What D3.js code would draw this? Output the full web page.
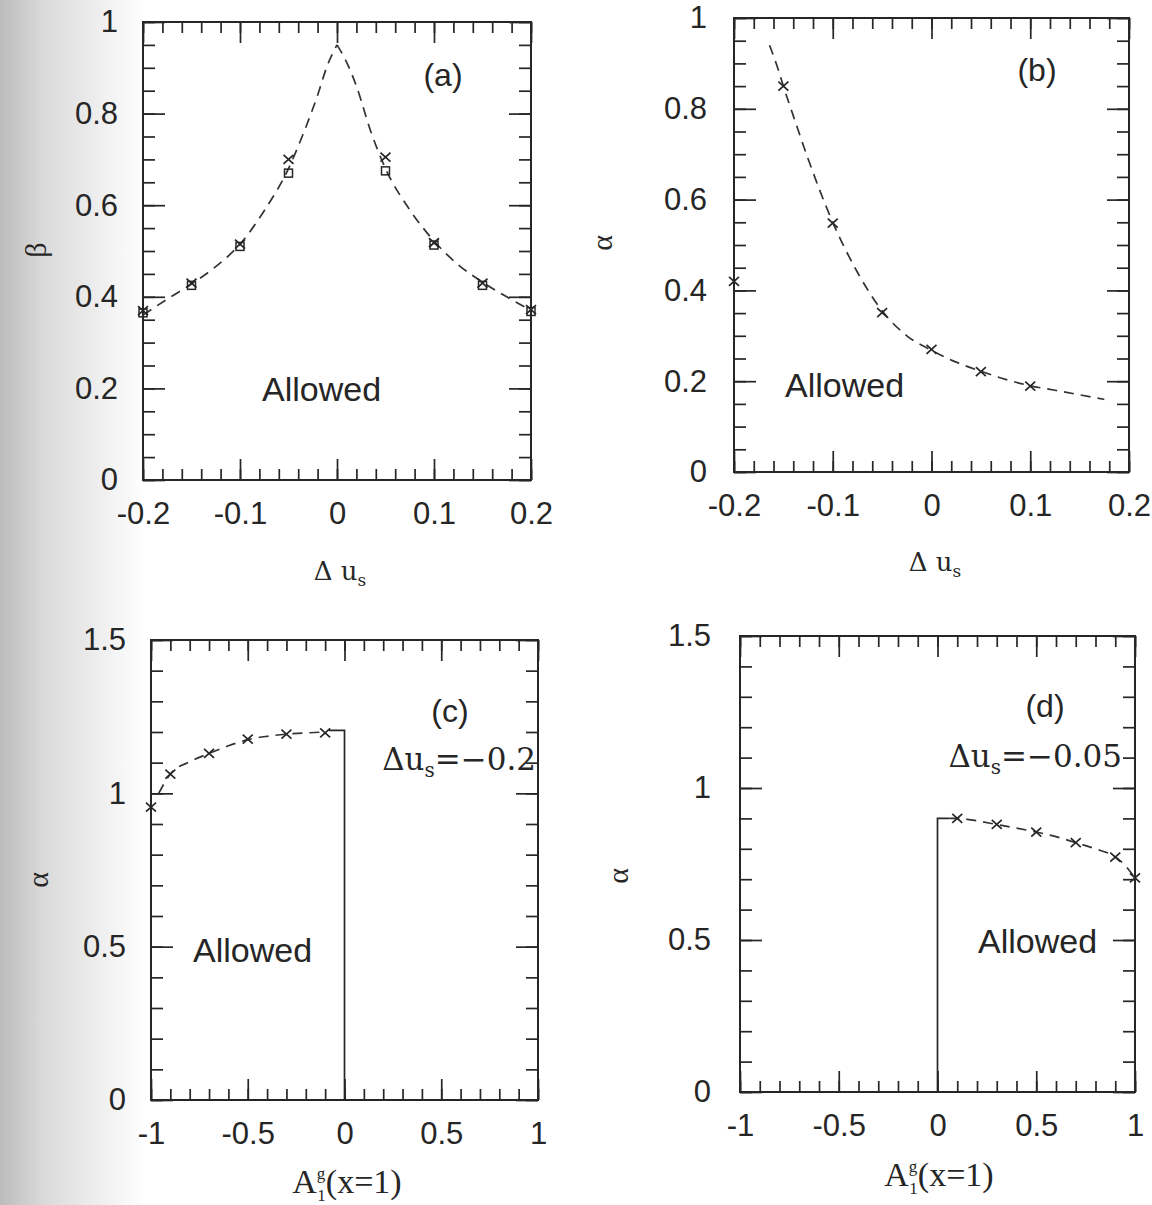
<!DOCTYPE html>
<html>
<head>
<meta charset="utf-8">
<script src="https://cdn.jsdelivr.net/npm/d3@7"></script>
<style>
    body { margin: 0; background: #fff; }
    .tick text { font-family: "Liberation Sans", Arial, sans-serif; font-size: 31px; fill: #262626; }
    .serif { font-family: "Liberation Serif", "DejaVu Serif", serif; fill: #262626; }
    .wide { font-family: "DejaVu Serif", "Liberation Serif", serif; fill: #262626; }
    .sans { font-family: "Liberation Sans", Arial, sans-serif; fill: #262626; }
</style>
</head>
<body>
<script>
"use strict";

// ---- tick values / labels ----
var duTicks = [-0.2, -0.1, 0, 0.1, 0.2];
var duTickLabels = ["-0.2", "-0.1", "0", "0.1", "0.2"];
var duMinor = d3.range(-0.2, 0.2001, 0.02);
var unitTicks = [0, 0.2, 0.4, 0.6, 0.8, 1];
var unitTickLabels = ["0", "0.2", "0.4", "0.6", "0.8", "1"];
var unitMinor = d3.range(0, 1.0001, 0.05);

var agTicks = [-1, -0.5, 0, 0.5, 1];
var agTickLabels = ["-1", "-0.5", "0", "0.5", "1"];
var agMinor = d3.range(-1, 1.0001, 0.1);
var alphaTicks = [0, 0.5, 1, 1.5];
var alphaTickLabels = ["0", "0.5", "1", "1.5"];
var alphaMinor = d3.range(0, 1.5001, 0.1);

// ---- panel (a): beta vs delta u_s ----
var aCrosses = [[-0.2, 0.37], [-0.15, 0.43], [-0.1, 0.515], [-0.05, 0.70],
    [0.05, 0.705], [0.1, 0.518], [0.15, 0.43], [0.2, 0.372]];
var aSquares = [[-0.2, 0.365], [-0.15, 0.425], [-0.1, 0.51], [-0.05, 0.67],
    [0.05, 0.675], [0.1, 0.513], [0.15, 0.425], [0.2, 0.368]];
var aCurveLeft = [[-0.2, 0.36], [-0.175, 0.395], [-0.15, 0.428], [-0.125, 0.466],
    [-0.1, 0.515], [-0.075, 0.588], [-0.05, 0.68], [-0.035, 0.755],
    [-0.02, 0.84], [-0.01, 0.905], [0, 0.95]];
var aCurveRight = [[0, 0.95], [0.01, 0.912], [0.02, 0.86], [0.035, 0.76],
    [0.05, 0.68], [0.075, 0.59], [0.1, 0.522], [0.125, 0.47],
    [0.15, 0.432], [0.175, 0.40], [0.2, 0.37]];

// ---- panel (b): alpha vs delta u_s ----
var bCrosses = [[-0.2, 0.42], [-0.15, 0.85], [-0.1, 0.548], [-0.05, 0.351],
    [0, 0.27], [0.05, 0.221], [0.1, 0.189]];
var bCurve = [[-0.164, 0.94], [-0.155, 0.885], [-0.15, 0.85], [-0.14, 0.785],
    [-0.125, 0.69], [-0.1, 0.55], [-0.075, 0.44], [-0.05, 0.355],
    [-0.025, 0.30], [0, 0.268], [0.025, 0.242], [0.05, 0.222],
    [0.075, 0.204], [0.1, 0.19], [0.125, 0.18], [0.15, 0.17], [0.175, 0.16]];

// ---- panel (c): alpha vs A1g, delta u_s = -0.2 ----
var cCrosses = [[-1, 0.955], [-0.9, 1.063], [-0.7, 1.13], [-0.5, 1.177],
    [-0.3, 1.193], [-0.1, 1.197]];
var cCurve = [[-0.96, 1.0], [-0.9, 1.063], [-0.8, 1.103], [-0.7, 1.13],
    [-0.6, 1.155], [-0.5, 1.175], [-0.4, 1.186], [-0.3, 1.193],
    [-0.2, 1.197], [-0.1, 1.2]];
var cBound = [[-0.08, 1.205], [0, 1.205], [0, 0]];

// ---- panel (d): alpha vs A1g, delta u_s = -0.05 ----
var dCrosses = [[0.1, 0.9], [0.3, 0.88], [0.5, 0.855], [0.7, 0.82],
    [0.9, 0.773], [1.0, 0.704]];
var dCurve = [[0.06, 0.9], [0.1, 0.9], [0.2, 0.892], [0.3, 0.88], [0.4, 0.868],
    [0.5, 0.855], [0.6, 0.84], [0.7, 0.82], [0.8, 0.8], [0.9, 0.773],
    [0.95, 0.745], [1.0, 0.704]];
var dBound = [[0, 0], [0, 0.9], [0.06, 0.9]];

var ink = "#262626";

var svg = d3.select("body")
    .append("svg")
    .attr("width", 1152)
    .attr("height", 1205);

// scanned page shadow on the left edge
var grad = svg.append("defs").append("linearGradient")
    .attr("id", "shade")
    .attr("gradientUnits", "userSpaceOnUse")
    .attr("x1", 0).attr("x2", 145).attr("y1", 0).attr("y2", 0);
grad.append("stop").attr("offset", 0).attr("stop-color", "#bcbcbc");
grad.append("stop").attr("offset", 0.3).attr("stop-color", "#dadada");
grad.append("stop").attr("offset", 1).attr("stop-color", "#ffffff");
svg.append("rect").attr("width", 1152).attr("height", 1205).attr("fill", "#fff");
svg.append("rect").attr("width", 145).attr("height", 1205).attr("fill", "url(#shade)");

function drawPanel(p) {
    var x = d3.scaleLinear().domain(p.xDomain).range([p.x0, p.x1]);
    var y = d3.scaleLinear().domain(p.yDomain).range([p.bottom, p.top]);
    var g = svg.append("g");

    function tickAxis(axisFn, scale, vals, size, tx, ty) {
        g.append("g")
            .attr("transform", "translate(" + tx + "," + ty + ")")
            .call(axisFn(scale).tickValues(vals).tickSize(-size).tickFormat(""))
            .call(function (s) { s.select(".domain").remove(); })
            .selectAll("line")
            .attr("stroke", ink)
            .attr("stroke-width", 1.7);
    }

    // minor and major ticks on all four sides, pointing inward
    [[p.xMinor, 11], [p.xMajor, 21]].forEach(function (t) {
        tickAxis(d3.axisBottom, x, t[0], t[1], 0, p.bottom);
        tickAxis(d3.axisTop, x, t[0], t[1], 0, p.top);
    });
    [[p.yMinor, 12], [p.yMajor, 22]].forEach(function (t) {
        tickAxis(d3.axisLeft, y, t[0], t[1], p.x0, 0);
        tickAxis(d3.axisRight, y, t[0], t[1], p.x1, 0);
    });

    // tick labels
    g.append("g")
        .attr("transform", "translate(0," + p.bottom + ")")
        .call(d3.axisBottom(x).tickValues(p.xMajor).tickSize(0).tickPadding(22)
            .tickFormat(function (d, i) { return p.xLabels[i]; }))
        .call(function (s) { s.select(".domain").remove(); });
    g.append("g")
        .attr("transform", "translate(" + p.x0 + ",0)")
        .call(d3.axisLeft(y).tickValues(p.yMajor).tickSize(0).tickPadding(p.yPad)
            .tickFormat(function (d, i) { return p.yLabels[i]; }))
        .call(function (s) { s.select(".domain").remove(); });

    g.append("rect")
        .attr("x", p.x0).attr("y", p.top)
        .attr("width", p.x1 - p.x0).attr("height", p.bottom - p.top)
        .attr("fill", "none")
        .attr("stroke", ink)
        .attr("stroke-width", 2);

    return { x: x, y: y, g: g };
}

function dashed(panel, data) {
    var line = d3.line()
        .x(function (d) { return panel.x(d[0]); })
        .y(function (d) { return panel.y(d[1]); })
        .curve(d3.curveMonotoneX);
    panel.g.append("path")
        .attr("d", line(data))
        .attr("fill", "none")
        .attr("stroke", "#333")
        .attr("stroke-width", 1.7)
        .attr("stroke-dasharray", "10,7");
}

function solid(panel, data) {
    var line = d3.line()
        .x(function (d) { return panel.x(d[0]); })
        .y(function (d) { return panel.y(d[1]); });
    panel.g.append("path")
        .attr("d", line(data))
        .attr("fill", "none")
        .attr("stroke", ink)
        .attr("stroke-width", 1.7);
}

function crosses(panel, data) {
    panel.g.selectAll(null)
        .data(data)
        .enter()
        .append("path")
        .attr("transform", function (d) {
            return "translate(" + panel.x(d[0]) + "," + panel.y(d[1]) + ")";
        })
        .attr("d", "M-5,-4.5L5,4.5M-5,4.5L5,-4.5")
        .attr("stroke", ink)
        .attr("stroke-width", 1.7);
}

function squares(panel, data) {
    panel.g.selectAll(null)
        .data(data)
        .enter()
        .append("rect")
        .attr("x", function (d) { return panel.x(d[0]) - 4; })
        .attr("y", function (d) { return panel.y(d[1]) - 4; })
        .attr("width", 8)
        .attr("height", 8)
        .attr("fill", "none")
        .attr("stroke", ink)
        .attr("stroke-width", 1.5);
}

function label(txt, x, y, size, cls, anchor) {
    return svg.append("text")
        .attr("class", cls)
        .attr("x", x).attr("y", y)
        .attr("font-size", size)
        .attr("text-anchor", anchor || "start")
        .text(txt);
}

function yTitle(txt, x, y) {
    svg.append("text")
        .attr("class", "serif")
        .attr("font-size", 30)
        .attr("text-anchor", "middle")
        .attr("transform", "translate(" + x + "," + y + ") rotate(-90)")
        .attr("dy", "0.35em")
        .text(txt);
}

function duTitle(cx, y) {
    var t = svg.append("text")
        .attr("class", "wide")
        .attr("font-size", 26)
        .attr("text-anchor", "middle")
        .attr("x", cx).attr("y", y);
    t.append("tspan").text("\u0394 u");
    t.append("tspan").attr("font-size", 17).attr("dy", 6).text("s");
}

// A with stacked superscript g and subscript 1
function agTitle(cx, y) {
    var t = svg.append("text")
        .attr("class", "serif")
        .attr("font-size", 34)
        .attr("text-anchor", "middle")
        .attr("x", cx).attr("y", y);
    t.append("tspan").text("A");
    t.append("tspan").attr("font-size", 17).attr("dy", -14).text("g");
    t.append("tspan").attr("font-size", 17).attr("dx", -8).attr("dy", 22).text("1");
    t.append("tspan").attr("dy", -8).text("(x=1)");
}

function duNote(txt, xEnd, y) {
    var t = svg.append("text")
        .attr("class", "wide")
        .attr("font-size", 31)
        .attr("text-anchor", "end")
        .attr("x", xEnd).attr("y", y);
    t.append("tspan").text("\u0394u");
    t.append("tspan").attr("font-size", 20).attr("dy", 7).text("s");
    t.append("tspan").attr("dy", -7).text("=\u2212" + txt);
}

// ---- panel (a) ----
var pa = drawPanel({
    x0: 143, x1: 531, top: 22, bottom: 480,
    xDomain: [-0.2, 0.2], yDomain: [0, 1],
    xMajor: duTicks, xLabels: duTickLabels, xMinor: duMinor,
    yMajor: unitTicks, yLabels: unitTickLabels, yMinor: unitMinor, yPad: 25
});
dashed(pa, aCurveLeft);
dashed(pa, aCurveRight);
squares(pa, aSquares);
crosses(pa, aCrosses);
label("(a)", 443, 86, 32, "sans", "middle");
label("Allowed", 262, 401, 34, "sans");
yTitle("\u03b2", 35, 250);
duTitle(340, 580);

// ---- panel (b) ----
var pb = drawPanel({
    x0: 734, x1: 1129, top: 18, bottom: 472,
    xDomain: [-0.2, 0.2], yDomain: [0, 1],
    xMajor: duTicks, xLabels: duTickLabels, xMinor: duMinor,
    yMajor: unitTicks, yLabels: unitTickLabels, yMinor: unitMinor, yPad: 27
});
dashed(pb, bCurve);
crosses(pb, bCrosses);
label("(b)", 1037, 81, 32, "sans", "middle");
label("Allowed", 785, 397, 34, "sans");
yTitle("\u03b1", 601, 243);
duTitle(935, 571);

// ---- panel (c) ----
var pc = drawPanel({
    x0: 151, x1: 538, top: 640, bottom: 1100,
    xDomain: [-1, 1], yDomain: [0, 1.5],
    xMajor: agTicks, xLabels: agTickLabels, xMinor: agMinor,
    yMajor: alphaTicks, yLabels: alphaTickLabels, yMinor: alphaMinor, yPad: 25
});
dashed(pc, cCurve);
solid(pc, cBound);
crosses(pc, cCrosses);
label("(c)", 450, 722, 32, "sans", "middle");
label("Allowed", 193, 962, 34, "sans");
duNote("0.2", 536, 770);
yTitle("\u03b1", 37, 880);
agTitle(347, 1193);

// ---- panel (d) ----
var pd = drawPanel({
    x0: 740, x1: 1135, top: 636, bottom: 1092,
    xDomain: [-1, 1], yDomain: [0, 1.5],
    xMajor: agTicks, xLabels: agTickLabels, xMinor: agMinor,
    yMajor: alphaTicks, yLabels: alphaTickLabels, yMinor: alphaMinor, yPad: 29
});
dashed(pd, dCurve);
solid(pd, dBound);
crosses(pd, dCrosses);
label("(d)", 1045, 717, 32, "sans", "middle");
label("Allowed", 978, 953, 34, "sans");
duNote("0.05", 1122, 767);
yTitle("\u03b1", 617, 876);
agTitle(939, 1186);
</script>
</body>
</html>
